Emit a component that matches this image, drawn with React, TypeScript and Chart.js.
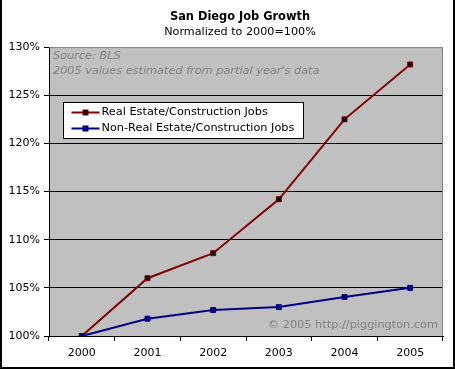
import React, { useEffect, useRef } from "react";
import { Chart, registerables } from "chart.js";

Chart.register(...registerables);

const years = ["2000", "2001", "2002", "2003", "2004", "2005"];
const realEstateJobs = [100, 106.0, 108.6, 114.2, 122.5, 128.2];
const nonRealEstateJobs = [100, 101.8, 102.7, 103.0, 104.05, 105.0];
const seriesLabels = ["Real Estate/Construction Jobs", "Non-Real Estate/Construction Jobs"];
const titleText = "San Diego Job Growth";
const subtitleText = "Normalized to 2000=100%";
const noteLines = ["Source: BLS", "2005 values estimated from partial year's data"];
const copyrightText = "\u00a9 2005 http://piggington.com";

const FONT = "'DejaVu Sans', Verdana, sans-serif";
const FS = 11.3;
const TITLE_X = 240;

const framePlugin = {
  id: "frame",
  beforeDraw(chart: any) {
    const { ctx, chartArea: a, width, height } = chart;
    ctx.save();
    ctx.fillStyle = "#ffffff";
    ctx.fillRect(0, 0, width, height);
    ctx.fillStyle = "#c0c0c0";
    ctx.fillRect(a.left, a.top, a.right - a.left, a.bottom - a.top);
    ctx.restore();
  },
  beforeDatasetsDraw(chart: any) {
    const { ctx, chartArea: a } = chart;
    ctx.save();
    ctx.strokeStyle = "#808080";
    ctx.lineWidth = 1;
    ctx.beginPath();
    ctx.moveTo(a.left, a.top + 0.5);
    ctx.lineTo(a.right - 0.5, a.top + 0.5);
    ctx.lineTo(a.right - 0.5, a.bottom);
    ctx.stroke();
    ctx.fillStyle = "#808080";
    ctx.font = `italic ${FS}px ${FONT}`;
    ctx.textBaseline = "middle";
    ctx.textAlign = "left";
    noteLines.forEach((t, i) => ctx.fillText(t, a.left + 4, a.top + 9 + i * 14.5));
    ctx.font = `${FS}px ${FONT}`;
    ctx.textAlign = "right";
    ctx.fillText(copyrightText, a.right - 5, a.bottom - 11);
    ctx.restore();
  },
  afterDraw(chart: any) {
    const { ctx, width, height } = chart;
    ctx.save();
    // title and subtitle (the library's blocks reserve the space)
    ctx.fillStyle = "#000000";
    ctx.textAlign = "center";
    ctx.textBaseline = "middle";
    ctx.font = `bold 11.4px ${FONT}`;
    ctx.fillText(titleText, TITLE_X, 17);
    ctx.font = `11.2px ${FONT}`;
    ctx.fillText(subtitleText, TITLE_X, 32);
    // legend box
    const lx = 63.5, ly = 102.5, lw = 240, lh = 36;
    ctx.fillStyle = "#ffffff";
    ctx.fillRect(lx, ly, lw, lh);
    ctx.strokeStyle = "#000000";
    ctx.lineWidth = 1;
    ctx.strokeRect(lx, ly, lw, lh);
    chart.data.datasets.forEach((ds: any, i: number) => {
      const y = ly + 10 + i * 16;
      ctx.strokeStyle = ds.borderColor;
      ctx.lineWidth = 2;
      ctx.beginPath();
      ctx.moveTo(lx + 8, y);
      ctx.lineTo(lx + 36, y);
      ctx.stroke();
      ctx.fillStyle = ds.pointBorderColor;
      ctx.fillRect(lx + 19, y - 3, 6, 6);
      ctx.fillStyle = ds.pointBackgroundColor;
      ctx.fillRect(lx + 20, y - 2, 4, 4);
      ctx.fillStyle = "#000000";
      ctx.font = `${FS}px ${FONT}`;
      ctx.textBaseline = "middle";
      ctx.textAlign = "left";
      ctx.fillText(ds.label, lx + 38, y);
    });
    // outer border
    ctx.fillStyle = "#000000";
    ctx.fillRect(0, 0, 2, height);
    ctx.fillRect(width - 2, 0, 2, height);
    ctx.fillRect(0, height - 2, width, 2);
    ctx.restore();
  },
};

export default function App() {
  const ref = useRef<HTMLCanvasElement | null>(null);
  useEffect(() => {
    if (!ref.current) return;
    const chart = new Chart(ref.current, {
      type: "line",
      data: {
        labels: years,
        datasets: [
          {
            label: seriesLabels[0],
            data: realEstateJobs,
            borderColor: "#800000",
            borderWidth: 2,
            pointStyle: "rect",
            pointRadius: 3.5,
            pointBorderWidth: 1,
            pointBorderColor: "#800000",
            pointBackgroundColor: "#000000",
            tension: 0,
            order: 1,
          },
          {
            label: seriesLabels[1],
            data: nonRealEstateJobs,
            borderColor: "#000080",
            borderWidth: 2,
            pointStyle: "rect",
            pointRadius: 3.5,
            pointBorderWidth: 1,
            pointBorderColor: "#000080",
            pointBackgroundColor: "#000080",
            tension: 0,
            order: 0,
          },
        ],
      },
      options: {
        responsive: false,
        animation: false,
        devicePixelRatio: 1,
        layout: { padding: { left: 0, right: 12, top: 0, bottom: 0 } },
        plugins: {
          legend: { display: false },
          tooltip: { enabled: false },
          title: {
            display: true,
            text: titleText,
            color: "rgba(0,0,0,0)",
            font: { family: FONT, size: 11.4, weight: "bold" },
            padding: { top: 10, bottom: 2 },
          },
          subtitle: {
            display: true,
            text: subtitleText,
            color: "rgba(0,0,0,0)",
            font: { family: FONT, size: 11.2 },
            padding: { top: 0, bottom: 8 },
          },
        },
        scales: {
          x: {
            offset: true,
            border: { display: true, color: "#000000", width: 1 },
            grid: {
              offset: true,
              display: true,
              drawOnChartArea: false,
              drawTicks: true,
              tickLength: 5,
              color: "#000000",
              tickColor: "#000000",
            },
            ticks: {
              color: "#000000",
              font: { family: FONT, size: 11 },
              padding: 6,
              maxRotation: 0,
            },
            afterFit(scale: any) {
              scale.height = 33;
            },
          },
          y: {
            min: 100,
            max: 130,
            border: { display: true, color: "#000000", width: 1 },
            grid: {
              color: (c: any) => (c.tick && c.tick.value === 130 ? "rgba(0,0,0,0)" : "#000000"),
              tickColor: "#000000",
              tickLength: 5,
              drawTicks: true,
            },
            ticks: {
              stepSize: 5,
              color: "#000000",
              font: { family: FONT, size: 11 },
              padding: 4,
              callback: (v: any) => `${v}%`,
            },
            afterFit(scale: any) {
              scale.width = 49;
            },
          },
        },
      },
      plugins: [framePlugin],
    });
    return () => chart.destroy();
  }, []);
  return (
    <div style={{ position: "absolute", left: 0, top: 0, width: 455, height: 369 }}>
      <canvas ref={ref} width={455} height={369} style={{ display: "block" }} />
    </div>
  );
}
